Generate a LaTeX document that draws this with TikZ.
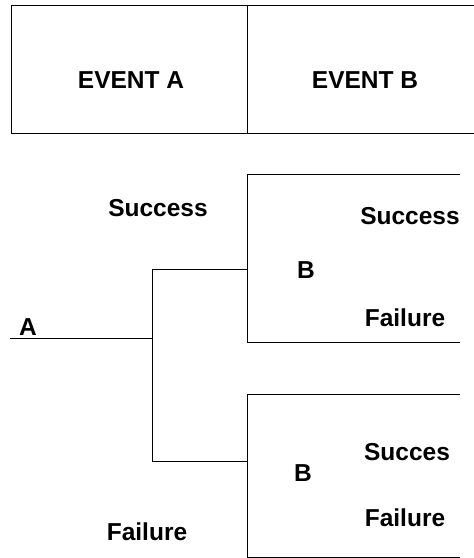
\documentclass[tikz,border=0pt]{standalone}
\usepackage{fontspec}
\setmainfont{Liberation Sans}
\usetikzlibrary{calc}

\begin{document}
\begin{tikzpicture}[x=1pt,y=-1pt,line width=0.8pt,
  lbl/.style={font=\fontsize{24.5}{28}\selectfont\bfseries,inner sep=0pt}]
\useasboundingbox (0,0) rectangle (474,558);

% header boxes
\begin{scope}
\coordinate (hA) at (11,5);
\coordinate (hM) at (247,5);
\coordinate (hE) at (474,5);
\draw (hE) -- (hA) -- ++(0,128) -- ++(463,0);
\draw (hM) -- ++(0,128);
\node[lbl] (evA) at (131,80) {EVENT A};
\node[lbl] (evB) at (365,80) {EVENT B};
\end{scope}

% event tree
\begin{scope}
\coordinate (root) at (10,338);
\coordinate (jA) at (152,338);
\coordinate (sA) at (152,269);
\coordinate (fA) at (152,461);
\coordinate (jB1) at (247,269);
\coordinate (jB2) at (247,461);
\draw (root) -- (jA);
\draw (sA) -- (fA);
\draw (sA) -- (jB1);
\draw (fA) -- (jB2);
% upper B
\draw (460,174) -- (247,174) -- (247,342) -- (460,342);
% lower B
\draw (460,394) -- (247,394) -- (247,557) -- (460,557);
\node[lbl] (lA) at (28,327) {A};
\node[lbl] (sucA) at (158,208) {Success};
\node[lbl] (failA) at (147,532) {Failure};
\node[lbl] (lB1) at (306,270) {B};
\node[lbl] (sucB1) at (410,216) {Success};
\node[lbl] (failB1) at (405,318) {Failure};
\node[lbl] (lB2) at (303,473) {B};
\node[lbl] (sucB2) at (407,452) {Succes};
\node[lbl] (failB2) at (405,518) {Failure};
\end{scope}
\end{tikzpicture}
\end{document}
